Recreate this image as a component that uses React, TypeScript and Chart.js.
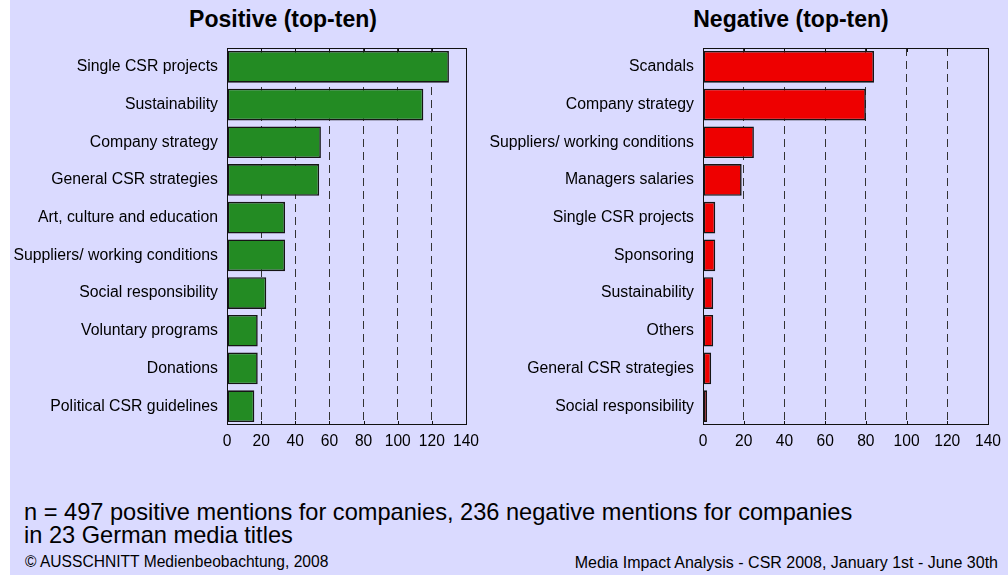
import React, { useEffect, useRef } from "react";
import { Chart, registerables } from "chart.js";

Chart.register(...registerables);

const FONT = "'Liberation Sans', Arial, Helvetica, sans-serif";
const BG = "#DADAFF";

const positiveTitle = "Positive (top-ten)";
const positiveCategories = [
  "Single CSR projects",
  "Sustainability",
  "Company strategy",
  "General CSR strategies",
  "Art, culture and education",
  "Suppliers/ working conditions",
  "Social responsibility",
  "Voluntary programs",
  "Donations",
  "Political CSR guidelines",
];
const positiveValues = [130, 115, 55, 54, 34, 34, 23, 18, 18, 16];

const negativeTitle = "Negative (top-ten)";
const negativeCategories = [
  "Scandals",
  "Company strategy",
  "Suppliers/ working conditions",
  "Managers salaries",
  "Single CSR projects",
  "Sponsoring",
  "Sustainability",
  "Others",
  "General CSR strategies",
  "Social responsibility",
];
const negativeValues = [84, 80, 25, 19, 6, 6, 5, 5, 4, 2];

const axisMin = 0;
const axisMax = 140;
const axisStep = 20;

const noteLines = [
  "n = 497 positive mentions for companies, 236 negative mentions for companies",
  "in 23 German media titles",
];
const footerLeft = "\u00A9 AUSSCHNITT Medienbeobachtung, 2008";
const footerRight = "Media Impact Analysis - CSR 2008, January 1st - June 30th";

const framePlugin = {
  id: "frame",
  beforeDatasetsDraw(chart: any) {
    const { ctx, chartArea: a, scales } = chart;
    const x = scales.x;
    ctx.save();
    ctx.strokeStyle = "#111";
    ctx.lineWidth = 1;
    ctx.beginPath();
    x.ticks.forEach((t: any) => {
      const px = Math.round(x.getPixelForValue(t.value)) + 0.5;
      ctx.moveTo(px, a.bottom);
      ctx.lineTo(px, a.bottom - 4);
      ctx.moveTo(px, a.top);
      ctx.lineTo(px, a.top + 4);
    });
    ctx.stroke();
    ctx.restore();
  },
  afterDatasetsDraw(chart: any) {
    const { ctx, chartArea: a } = chart;
    ctx.save();
    ctx.strokeStyle = "#111";
    ctx.lineWidth = 1;
    const l = Math.round(a.left) + 0.5;
    const t = Math.round(a.top) + 0.5;
    const r = Math.round(a.right) + 0.5;
    const b = Math.round(a.bottom) - 0.5;
    ctx.strokeRect(l, t, r - l, b - t);
    ctx.restore();
  },
};

type PanelProps = {
  labels: string[];
  values: number[];
  color: string;
  left: number;
  width: number;
  yWidth: number;
  padRight: number;
};

function BarPanel({ labels, values, color, left, width, yWidth, padRight }: PanelProps) {
  const ref = useRef<HTMLCanvasElement>(null);
  useEffect(() => {
    const chart = new Chart(ref.current as HTMLCanvasElement, {
      type: "bar",
      data: {
        labels,
        datasets: [
          {
            data: values,
            backgroundColor: color,
            borderColor: "#151515",
            borderWidth: 1.6,
            borderSkipped: false,
            barPercentage: 0.84,
            categoryPercentage: 1,
          },
        ],
      },
      options: {
        indexAxis: "y",
        animation: false,
        responsive: false,
        maintainAspectRatio: false,
        layout: { padding: { left: 0, right: padRight, top: 48, bottom: 0 } },
        plugins: {
          legend: { display: false },
          tooltip: { enabled: false },
          title: { display: false },
        },
        scales: {
          x: {
            min: axisMin,
            max: axisMax,
            ticks: {
              stepSize: axisStep,
              color: "#000",
              font: { size: 15.6, family: FONT },
              padding: 7,
            },
            grid: {
              drawTicks: false,
              lineWidth: 1,
              color: (c: any) =>
                c.tick && (c.tick.value === axisMin || c.tick.value === axisMax)
                  ? "rgba(0,0,0,0)"
                  : "#333",
            },
            border: { display: false, dash: [8, 5] },
            afterFit: (s: any) => {
              s.height = 35;
            },
          } as any,
          y: {
            ticks: { color: "#000", font: { size: 15.8, family: FONT }, padding: 9 },
            grid: { display: false, drawTicks: false },
            border: { display: false },
            afterFit: (s: any) => {
              s.width = yWidth;
            },
          } as any,
        },
      },
      plugins: [framePlugin],
    });
    return () => chart.destroy();
  }, []);
  return (
    <canvas
      ref={ref}
      width={width}
      height={460}
      style={{ position: "absolute", left, top: 0, width, height: 460 }}
    />
  );
}

const titleStyle = (center: number): React.CSSProperties => ({
  position: "absolute",
  left: center - 200,
  width: 400,
  top: 8,
  textAlign: "center",
  fontFamily: FONT,
  fontWeight: "bold",
  fontSize: 23,
  lineHeight: "23px",
  color: "#000",
  whiteSpace: "nowrap",
});

const textStyle = (left: number, top: number, size: number): React.CSSProperties => ({
  position: "absolute",
  left,
  top,
  fontFamily: FONT,
  fontSize: size,
  lineHeight: `${size}px`,
  color: "#000",
  whiteSpace: "nowrap",
});

export default function App() {
  return (
    <div
      style={{
        position: "fixed",
        left: 10,
        top: 0,
        width: 998,
        height: 575,
        background: BG,
        overflow: "hidden",
      }}
    >
      <div style={{ position: "absolute", left: -10, top: 0, width: 1008, height: 575 }}>
        <div style={titleStyle(283)}>{positiveTitle}</div>
        <div style={titleStyle(791)}>{negativeTitle}</div>
        <BarPanel
          labels={positiveCategories}
          values={positiveValues}
          color="#238B23"
          left={10}
          width={480}
          yWidth={217}
          padRight={24}
        />
        <BarPanel
          labels={negativeCategories}
          values={negativeValues}
          color="#EE0000"
          left={490}
          width={518}
          yWidth={213}
          padRight={20}
        />
        <div style={textStyle(24, 501, 23.6)}>{noteLines[0]}</div>
        <div style={textStyle(24, 524, 23.6)}>{noteLines[1]}</div>
        <div style={textStyle(25, 554, 15.6)}>{footerLeft}</div>
        <div style={{ ...textStyle(0, 555, 16), left: "auto", right: 10 }}>{footerRight}</div>
      </div>
    </div>
  );
}
